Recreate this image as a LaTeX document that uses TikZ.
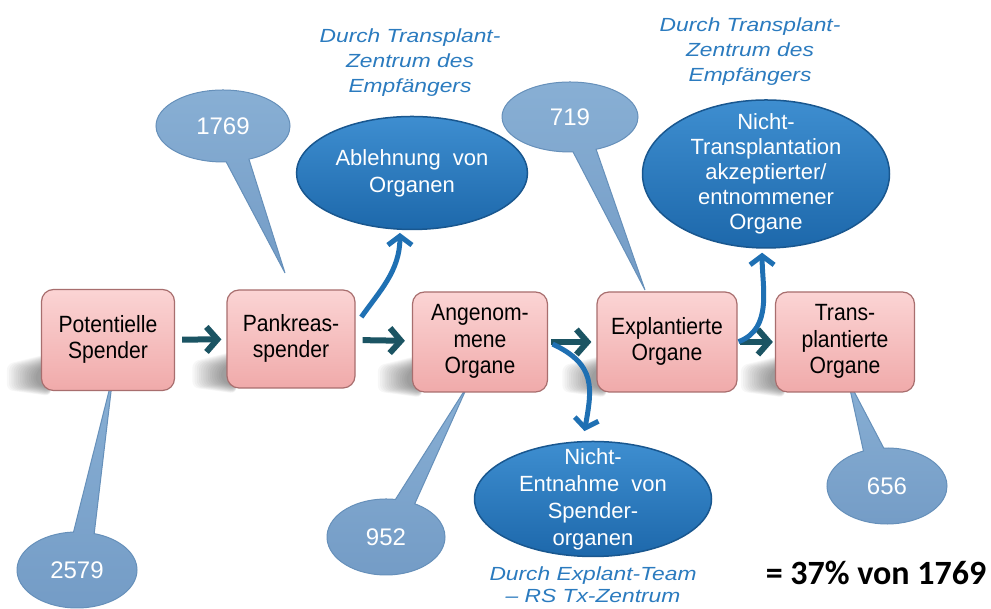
\documentclass[tikz,border=0pt]{standalone}
\usepackage{fontspec}
\setmainfont{Liberation Sans}
\newfontfamily\carlito{Carlito}
\usetikzlibrary{shapes.geometric,shapes.callouts,arrows.meta,calc,backgrounds}

\definecolor{boxtop}{HTML}{FBD4D4}
\definecolor{boxbot}{HTML}{F0AAAA}
\definecolor{boxline}{HTML}{A86E6E}
\definecolor{flowteal}{HTML}{1B5463}
\definecolor{curveblue}{HTML}{1F70B3}
\definecolor{elltop}{HTML}{3E8ED0}
\definecolor{ellbot}{HTML}{1D68AB}
\definecolor{ellline}{HTML}{19578F}
\definecolor{calltop}{HTML}{88AFD4}
\definecolor{callbot}{HTML}{749CC6}
\definecolor{callline}{HTML}{6690BA}
\definecolor{labelblue}{HTML}{2B7BBF}

\tikzset{
  stage/.style={draw=boxline, line width=1.2pt, rounded corners=12pt,
    top color=boxtop, bottom color=boxbot, minimum width=135pt,
    minimum height=100pt, align=center, text=black, inner sep=0pt,
    font=\fontsize{23.5}{26.5}\selectfont},
  loss/.style={ellipse, draw=ellline, line width=1.5pt, top color=elltop,
    bottom color=ellbot, inner sep=0pt},
  losstext/.style={align=center, text=white, inner sep=0pt,
    font=\fontsize{22}{27}\selectfont},
  count/.style={ellipse callout, draw=callline, line width=1pt,
    top color=calltop, bottom color=callbot, text=white, inner sep=0pt,
    callout pointer arc=20, font=\fontsize{24}{28}\selectfont},
  flow/.style={draw=flowteal, line width=6pt,
    -{Straight Barb[length=11pt,width=25pt]}},
  branch/.style={draw=curveblue, line width=5pt,
    -{Straight Barb[length=9pt,width=24pt]}},
  note/.style={text=labelblue, align=center, inner sep=0pt,
    font=\fontsize{19}{25}\selectfont\itshape},
}

\newcommand{\stageshadow}[1]{%
  \foreach \k in {0,...,13} {%
    \fill[black, opacity=0.03, rounded corners=6pt]
      ($(#1.south west)+(10,-5+0.5*\k)$) -- ($(#1.south west)+(-34+2.2*\k,1+0.5*\k)$)
      -- ($(#1.south west)+(-34+2.2*\k,27-0.6*\k)$) -- ($(#1.south west)+(10,38-0.6*\k)$) -- cycle;}}
\newcommand{\stretched}[1]{\scalebox{1.2}[1]{\begin{tabular}{@{}c@{}}#1\end{tabular}}}
\newcommand{\stagelines}[1]{\scalebox{0.9}[1]{\begin{tabular}{@{}c@{}}#1\end{tabular}}}

\begin{document}
\begin{tikzpicture}[x=1pt,y=1pt]
\useasboundingbox (0,0) rectangle (991,609);

% pointer tips of the count callouts
\coordinate (p2579) at (113,234);
\coordinate (p1769) at (285,336);
\coordinate (p952)  at (468,224);
\coordinate (p719)  at (645,319);
\coordinate (p656)  at (848,229);

% count callouts
\node[count, minimum width=120pt, minimum height=76pt, callout absolute pointer={(p2579)}] (n2579) at (77,39) {2579};
\node[count, minimum width=134pt, minimum height=72pt, callout absolute pointer={(p1769)}] (n1769) at (223,483) {1769};
\node[count, minimum width=118pt, minimum height=76pt, callout absolute pointer={(p952)}] (n952) at (386,72) {952};
\node[count, minimum width=136pt, minimum height=70pt, callout absolute pointer={(p719)}] (n719) at (570,492) {719};
\node[count, minimum width=120pt, minimum height=76pt, callout absolute pointer={(p656)}] (n656) at (887,123) {656};

% stages
\node[stage, minimum width=133pt, minimum height=101pt] (B1) at (108,269) {\stagelines{Potentielle\\Spender}};
\node[stage, minimum width=128pt, minimum height=98pt] (B2) at (291,270) {\stagelines{Pankreas-\\spender}};
\node[stage] (B3) at (480,267) {\stagelines{Angenom-\\mene\\Organe}};
\node[stage, minimum width=140pt] (B4) at (667,267) {\stagelines{Explantierte\\Organe}};
\node[stage, minimum width=139pt] (B5) at (845,267) {\stagelines{Trans-\\plantierte\\Organe}};

\begin{scope}[on background layer]
  \fill[white] (0,0) rectangle (991,609);
  \stageshadow{B1}
  \stageshadow{B2}
  \stageshadow{B3}
  \stageshadow{B4}
  \stageshadow{B5}
\end{scope}

% loss ellipses
\node[loss, minimum width=231pt, minimum height=113pt] (E1) at (412,436) {};
\node[losstext] (E1t) at (E1) {Ablehnung\ \ von\\Organen};
\node[loss, minimum width=247pt, minimum height=148pt] (E2) at (766,435) {};
\node[losstext, font=\fontsize{22}{25}\selectfont] (E2t) at (E2) {Nicht-\\Transplantation\\akzeptierter/\\entnommener\\Organe};
\node[loss, minimum width=237pt, minimum height=115pt] (E3) at (593,110) {};
\node[losstext] (E3t) at (E3) {Nicht-\\Entnahme\ \ von\\Spender-\\organen};

% notes
\node[note] (L1) at (410,546) {\stretched{Durch Transplant-\\Zentrum des\\Empfängers}};
\node[note] (L2) at (750,557) {\stretched{Durch Transplant-\\Zentrum des\\Empfängers}};
\node[note, font=\fontsize{19}{22}\selectfont\itshape] (L3) at (593,22) {\stretched{Durch Explant-Team\\– RS Tx-Zentrum}};

% result
\node[font=\carlito\bfseries\fontsize{34}{40}\selectfont, inner sep=0pt] (R) at (876,36) {= 37\% von 1769};

% main flow
\draw[flow, shorten <=7pt, shorten >=5pt] (B1) -- (B2);
\draw[flow, shorten <=7pt, shorten >=7pt] (B2) -- (B3);
\draw[flow, shorten <=3pt, shorten >=5pt] (B3) -- (B4);
\draw[flow, shorten <=2pt, shorten >=2pt] (B4) -- (B5);

% branches
\draw[branch, shorten <=10pt, shorten >=3pt] (B2.12) to[out=55,in=-90] (E1.-102);
\draw[branch, shorten <=5pt, shorten >=10pt] (B3.east) to[out=-25,in=80,looseness=1.3] (E3.100);
\draw[branch, shorten <=1pt, shorten >=4pt] (B4.east) to[out=20,in=-90] (E2.-93);
\end{tikzpicture}
\end{document}
